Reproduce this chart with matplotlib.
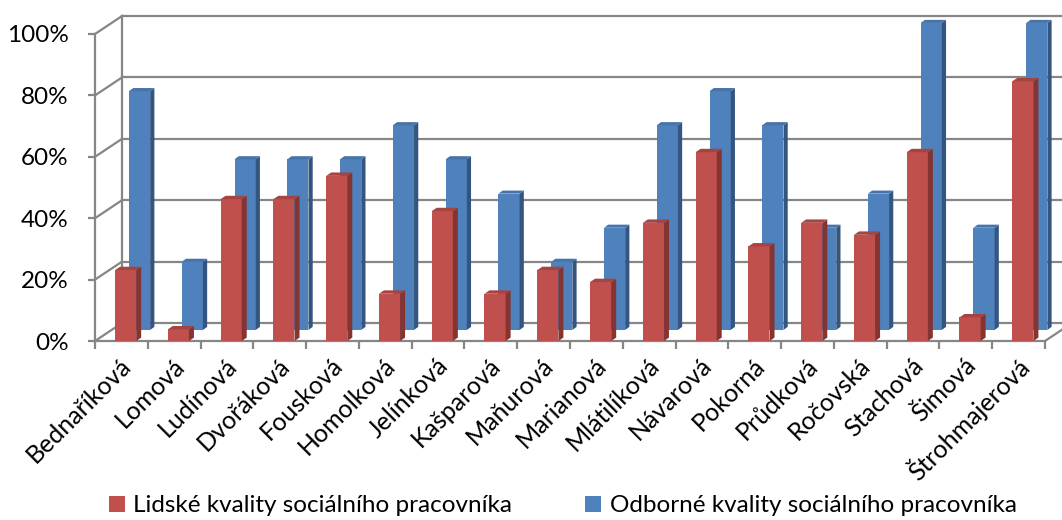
import numpy as np
import matplotlib
matplotlib.use("Agg")
import matplotlib.pyplot as plt
from matplotlib.patches import Polygon, Patch

names = ["Bednaříková", "Lomová", "Ludínová", "Dvořáková", "Fousková", "Homolková",
         "Jelínková", "Kašparová", "Maňurová", "Marianová", "Mlátilíková", "Návarová",
         "Pokorná", "Průdková", "Ročovská", "Stachová", "Šimová", "Štrohmajerová"]
lidske = [23.1, 3.8, 46.2, 46.2, 53.8, 15.4, 42.3, 15.4, 23.1, 19.2, 38.5, 61.5,
          30.8, 38.5, 34.6, 61.5, 7.7, 84.6]
odborne = [77.8, 22.2, 55.6, 55.6, 55.6, 66.7, 55.6, 44.4, 22.2, 33.3, 66.7, 77.8,
           66.7, 33.3, 44.4, 100.0, 33.3, 100.0]
yticks = [0, 20, 40, 60, 80, 100]
labels_leg = ["Lidské kvality sociálního pracovníka", "Odborné kvality sociálního pracovníka"]

plt.rcParams['font.family'] = ['Lato', 'DejaVu Sans']

fig = plt.figure(figsize=(10.62, 5.2), dpi=100)
ax = fig.add_axes([95 / 1062, 179 / 520, 950 / 1062, 307 / 520])
ax.set_xlim(0, 18)
ax.set_ylim(0, 100)

grid_c = "#868686"
# depth of the back wall (in data units)
wdx, wdy = 0.512, 5.86

# walls and gridlines
for v in yticks:
    ax.plot([wdx, 18 + 2 * wdx], [v + wdy, v + wdy], color=grid_c, lw=1.6, clip_on=False, zorder=1)
    ax.plot([0, wdx], [v, v + wdy], color=grid_c, lw=1.6, clip_on=False, zorder=1)
ax.plot([wdx, wdx], [wdy, 100 + wdy], color=grid_c, lw=1.6, clip_on=False, zorder=1)
ax.plot([18, 18 + wdx], [0, wdy], color=grid_c, lw=1.6, clip_on=False, zorder=1)

x = np.arange(len(names))
bw = 0.40


def bar3d(left, vals, bottom, face, side, top, sdx, sdy, z):
    bars = ax.bar(left, vals, width=bw, bottom=bottom, align='edge', color=face,
                  edgecolor='none', zorder=z)
    for b in bars:
        b.set_clip_on(False)
    for l, v in zip(left, vals):
        r = l + bw
        t = bottom + v
        ax.add_patch(Polygon([(r, bottom), (r + sdx, bottom + sdy), (r + sdx, t + sdy), (r, t)],
                             closed=True, facecolor=side, edgecolor='none', zorder=z, clip_on=False))
        ax.add_patch(Polygon([(l, t), (l + sdx, t + sdy), (r + sdx, t + sdy), (r, t)],
                             closed=True, facecolor=top, edgecolor='none', zorder=z, clip_on=False))


bar3d(x + 0.645, odborne, 3.6, "#4F81BD", "#34557F", "#4673AA", 0.08, 1.0, 2)
bar3d(x + 0.38, lidske, 0.0, "#C0504D", "#853432", "#A64442", 0.095, 1.1, 3)

for s in ["top", "right"]:
    ax.spines[s].set_visible(False)
for s in ["left", "bottom"]:
    ax.spines[s].set_color(grid_c)
    ax.spines[s].set_linewidth(1.6)
    ax.spines[s].set_zorder(1)

ax.set_yticks(yticks)
ax.set_yticklabels([f"{v}%" for v in yticks], fontsize=17.5)
ax.tick_params(axis='y', length=5, width=1.6, color=grid_c, pad=14)

ax.set_xticks(np.arange(19), minor=True)
ax.tick_params(axis='x', which='minor', length=6, width=1.6, color=grid_c)
ax.set_xticks(x + 0.62)
ax.set_xticklabels(names, rotation=45, ha='right', va='center', rotation_mode='anchor', fontsize=18)
ax.tick_params(axis='x', which='major', length=0, pad=15)

handles = [Patch(facecolor="#C0504D"), Patch(facecolor="#4F81BD")]
fig.legend(handles, labels_leg, loc='lower center', ncol=2, frameon=False, fontsize=17.5,
           handlelength=0.65, handleheight=0.65, handletextpad=0.35, columnspacing=3.0,
           bbox_to_anchor=(0.53, -0.035))

fig.savefig("out.png", dpi=100)
